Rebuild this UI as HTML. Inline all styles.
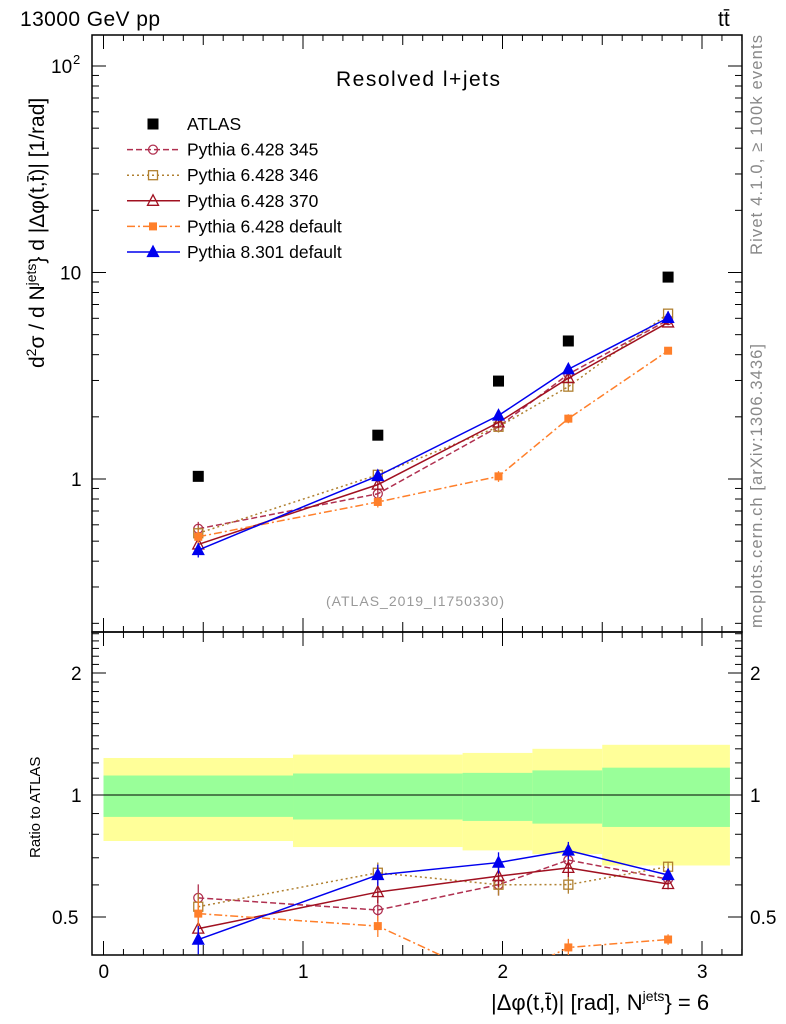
<!DOCTYPE html>
<html><head><meta charset="utf-8"><style>
body{margin:0;background:#fff}
svg{display:block;font-family:"Liberation Sans",Arial,sans-serif}
</style></head><body>
<svg id="c" width="786" height="1024" viewBox="0 0 786 1024">
<text x="20" y="26" font-size="21" textLength="140">13000 GeV pp</text>
<text x="718" y="26" font-size="21">tt̄</text>
<text x="336" y="86" font-size="21" textLength="164">Resolved l+jets</text>
<text x="326" y="606" font-size="14" fill="#999" textLength="178">(ATLAS_2019_I1750330)</text>
<text transform="translate(762,255) rotate(-90)" font-size="16.5" fill="#888" textLength="220">Rivet 4.1.0, ≥ 100k events</text>
<text transform="translate(762,628) rotate(-90)" font-size="16.5" fill="#888" textLength="284">mcplots.cern.ch [arXiv:1306.3436]</text>
<text transform="translate(44,368) rotate(-90)" font-size="21">d<tspan font-size="14" dy="-8">2</tspan><tspan dy="8">σ / d N</tspan><tspan font-size="14" dy="-8">jets</tspan><tspan dy="8">} d |Δφ(t,t̄)| [1/rad]</tspan></text>
<text transform="translate(40,858) rotate(-90)" font-size="15">Ratio to ATLAS</text>
<text x="491" y="1010" font-size="22">|Δφ(t,t̄)| [rad], N<tspan font-size="14" dy="-9">jets</tspan><tspan dy="9">} = 6</tspan></text>
</svg>
<script>
const xCenters=[0.475,1.375,1.98,2.33,2.83];
const binEdges=[0,0.95,1.8,2.15,2.5,3.14];
const atlas=[1.03,1.63,2.98,4.66,9.5];
const p345=[0.574,0.848,1.79,3.22,5.89];
const p346=[0.546,1.048,1.79,2.80,6.32];
const p370=[0.482,0.939,1.88,3.08,5.73];
const pdef=[0.525,0.774,1.03,1.96,4.18];
const p8=[0.453,1.035,2.03,3.40,6.03];
const relErr=[0.08,0.06,0.06,0.05,0.03];
const bandY1=[1.234,1.258,1.27,1.30,1.33];
const bandG1=[1.117,1.13,1.134,1.15,1.168];
const bandG2=[0.883,0.87,0.863,0.85,0.834];
const bandY2=[0.77,0.744,0.73,0.715,0.67];
const mainTicks=[1,10,100];
const ratioTicks=[0.5,1,2];
const xTicks=[0,1,2,3];

const NS="http://www.w3.org/2000/svg",svg=document.getElementById('c');
function el(t,a,p){const e=document.createElementNS(NS,t);for(const k in a)e.setAttribute(k,a[k]);(p||svg).appendChild(e);return e;}
const L=92,R=742,T=35,MB=632,RB=955;
const X=v=>103.5+v*199.5;
const Ym=v=>479-Math.log10(v)*206.5;
const Yr=v=>795-Math.log2(v)*122;

const bands=el('g',{});


for(let i=0;i<5;i++){
  const x1=X(binEdges[i]),x2=X(binEdges[i+1]);
  const y=el('rect',{x:x1,y:Yr(bandY1[i]),width:x2-x1,height:Yr(bandY2[i])-Yr(bandY1[i]),fill:'#ffff99'},bands);
  
  
  const g=el('rect',{x:x1,y:Yr(bandG1[i]),width:x2-x1,height:Yr(bandG2[i])-Yr(bandG1[i]),fill:'#99ff99'},bands);
  
  
}
el('line',{x1:X(0),x2:X(3.14),y1:Yr(1),y2:Yr(1),stroke:'#000','stroke-width':1});

el('rect',{x:L,y:T,width:R-L,height:MB-T,fill:'none',stroke:'#000','stroke-width':1.5});
el('rect',{x:L,y:MB,width:R-L,height:RB-MB,fill:'none',stroke:'#000','stroke-width':1.5});

function txt(s,x,y,o){const e=el('text',Object.assign({x:x,y:y,'font-size':19},o||{}));e.textContent=s;return e;}

for(let d=-1;d<=2;d++){for(let m=1;m<10;m++){const v=m*Math.pow(10,d),y=Ym(v);if(y<T||y>MB)continue;const len=m==1?14:7;
el('line',{x1:L,x2:L+len,y1:y,y2:y,stroke:'#000'});el('line',{x1:R,x2:R-len,y1:y,y2:y,stroke:'#000'});}}
mainTicks.forEach(v=>{const y=Ym(v);let t;
 if(v==100){t=txt('10',51,y+7,{});txt('2',73,y-2,{'font-size':13});}
 else t=txt(String(v),v==1?71:60,y+7,{});
 });
for(let k=4;k<=25;k++){const v=k/10,y=Yr(v);if(y<MB||y>RB)continue;const maj=(k==5||k==10||k==20);const len=maj?14:7;
el('line',{x1:L,x2:L+len,y1:y,y2:y,stroke:'#000'});el('line',{x1:R,x2:R-len,y1:y,y2:y,stroke:'#000'});}
ratioTicks.forEach(v=>{const y=Yr(v)+7;const s=String(v);
 const a=txt(s,v==0.5?52:71,y,{});
 const b=txt(s,750,y,{});});
for(let k=-1;k<=32;k++){const v=k/10,x=X(v);if(x<L||x>R)continue;const len=k%10==0?14:(k%5==0?10:6);
 [[T,1],[MB,-1],[MB,1],[RB,-1]].forEach(([y0,s])=>el('line',{x1:x,x2:x,y1:y0,y2:y0+s*len,stroke:'#000'}));}
xTicks.forEach(v=>{const t=txt(String(v),X(v)-5,978,{});});

const series=[
 {n:'pythia6-345',d:p345,c:'#b03050',dash:'6,3',m:'circle'},
 {n:'pythia6-346',d:p346,c:'#b08030',dash:'2,3',m:'sq-open'},
 {n:'pythia6-370',d:p370,c:'#a01020',dash:'',m:'tri-open'},
 {n:'pythia6-default',d:pdef,c:'#ff7f2a',dash:'8,3,2,3',m:'sq'},
 {n:'pythia8-default',d:p8,c:'#0000ee',dash:'',m:'tri'}];
function marker(m,x,y,c,g){
 if(m=='circle')return el('circle',{cx:x,cy:y,r:4.5,fill:'none',stroke:c,'stroke-width':1.3},g);
 if(m=='sq-open')return el('rect',{x:x-4.5,y:y-4.5,width:9,height:9,fill:'none',stroke:c,'stroke-width':1.3},g);
 if(m=='sq')return el('rect',{x:x-4,y:y-4,width:8,height:8,fill:c},g);
 if(m=='sqk')return el('rect',{x:x-5.5,y:y-5.5,width:11,height:11,fill:c},g);
 const p=`${x},${y-6} ${x-5.5},${y+4.5} ${x+5.5},${y+4.5}`;
 return el('polygon',{points:p,fill:m=='tri'?c:'none',stroke:c,'stroke-width':1.3},g);}
function clipRect(id,y1,y2){const cp=el('clipPath',{id:id});el('rect',{x:L,y:y1,width:R-L,height:y2-y1},cp);}
clipRect('cm',T,MB);clipRect('cr',MB,RB);
series.forEach(s=>{
 [['main',Ym,'cm'],['ratio',Yr,'cr']].forEach(([panel,Y,cid])=>{
  const g=el('g',{'clip-path':`url(#${cid})`});
  
  
  const vals=s.d.map((v,i)=>panel=='main'?v:v/atlas[i]);
  el('polyline',{points:vals.map((v,i)=>X(xCenters[i])+','+Y(v)).join(' '),fill:'none',stroke:s.c,'stroke-width':1.5,'stroke-dasharray':s.dash},g);
  vals.forEach((v,i)=>{const x=X(xCenters[i]);
   el('line',{x1:x,x2:x,y1:Y(v*(1+relErr[i])),y2:Y(v*(1-relErr[i])),stroke:s.c,'stroke-width':1.3},g);
   const mk=marker(s.m,x,Y(v),s.c,g);
   
   });
 });
});
atlas.forEach((v,i)=>{const mk=marker('sqk',X(xCenters[i]),Ym(v),'#000',svg);
 
 });

const lg=el('g',{});


const names=['ATLAS','Pythia 6.428 345','Pythia 6.428 346','Pythia 6.428 370','Pythia 6.428 default','Pythia 8.301 default'];
names.forEach((n,i)=>{const y=124+i*25.6;
 const e=el('g',{},lg);
 
 
 if(i==0)marker('sqk',153,y,'#000',e);else{const s=series[i-1];
  el('line',{x1:127,x2:180,y1:y,y2:y,stroke:s.c,'stroke-width':1.5,'stroke-dasharray':s.dash},e);marker(s.m,153,y,s.c,e);}
 const t=el('text',{x:187,y:y+6,'font-size':17.5},e);t.textContent=n;});
</script>
</body></html>
